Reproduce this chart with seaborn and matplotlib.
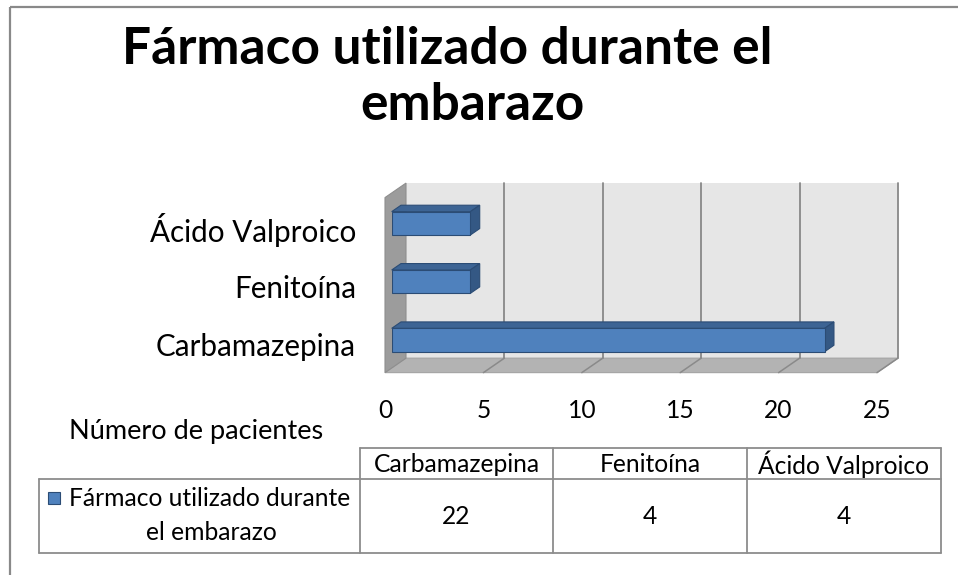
import numpy as np
import pandas as pd
import matplotlib
matplotlib.use("Agg")
import matplotlib.pyplot as plt
import seaborn as sns
from matplotlib.patches import Polygon, Rectangle
from matplotlib.transforms import ScaledTranslation, IdentityTransform, blended_transform_factory

# ---------------- data ----------------
categories = ["Carbamazepina", "Fenitoína", "Ácido Valproico"]
pacientes = [22, 4, 4]
x_ticks = [0, 5, 10, 15, 20, 25]
title_lines = ["Fármaco utilizado durante el", "embarazo"]
series_lines = ["Fármaco utilizado durante", "el embarazo"]
axis_title = "Número de pacientes"

# ---------------- setup ----------------
W, H, DPI = 958, 575, 100
sns.set_theme(style="white")
plt.rcParams["font.family"] = ["Lato", "DejaVu Sans"]

fig = plt.figure(figsize=(W / DPI, H / DPI), dpi=DPI)
fig.patch.set_facecolor("white")
renderer = fig.canvas.get_renderer()


def text_w(s, size, weight="normal"):
    t = fig.text(0, 0, s, fontsize=size, fontweight=weight)
    w = t.get_window_extent(renderer=renderer).width
    t.remove()
    return w


def fit(s, target, weight="normal"):
    return 10.0 * target / text_w(s, 10, weight)


k = fit("Carbamazepina", 200) / 24.0
fs_ylab = 24 * k
fs_axis = 22 * k
fs_table = 20 * k
fs_tick = 20 * k
fs_title = fit(title_lines[0], 651, "bold")

# overlay axes in pixel coordinates (origin top-left)
ov = fig.add_axes([0, 0, 1, 1], zorder=0)
ov.set_xlim(0, W)
ov.set_ylim(H, 0)
ov.set_axis_off()

# main plot axes: bar front plane
X0, PXU = 391.7, 19.68          # pixel of value 0, pixels per unit
YC0, DYC = 223.3, 58.35         # pixel center of first (top) category, spacing
YLIM = (2.6, -0.6)
top_px = YC0 + YLIM[1] * DYC
bot_px = YC0 + YLIM[0] * DYC
ax = fig.add_axes([X0 / W, 1 - bot_px / H, 25 * PXU / W, (bot_px - top_px) / H], zorder=1)
ax.patch.set_alpha(0)

df = pd.DataFrame({"farmaco": categories, "pacientes": pacientes})
order = categories[::-1]
sns.barplot(data=df, x="pacientes", y="farmaco", order=order, orient="h",
            width=0.4, color="#4F81BD", saturation=1, edgecolor="#2B4C75",
            linewidth=0.8, ax=ax, zorder=4)
ax.set_xlim(0, 25)
ax.set_ylim(*YLIM)
ax.set_axis_off()

RATIO = 0.69
D_FRONT, D_BACK, D_BAR = -6.7, 14.3, 9.3
Y_FLOOR, Y_TOP = 2.48, -0.52


def P(v, y, d):
    x, yy = ax.transData.transform((v, y))
    return (x + d, yy + d * RATIO)


def poly(pts, **kw):
    p = Polygon(pts, closed=True, transform=IdentityTransform(), clip_on=False, **kw)
    ax.add_patch(p)
    return p


def line(p1, p2, **kw):
    ax.plot([p1[0], p2[0]], [p1[1], p2[1]], transform=IdentityTransform(),
            clip_on=False, **kw)


vmax = x_ticks[-1]
# back wall
poly([P(0, Y_TOP, D_BACK), P(vmax, Y_TOP, D_BACK), P(vmax, Y_FLOOR, D_BACK), P(0, Y_FLOOR, D_BACK)],
     facecolor="#E6E6E6", edgecolor="none", zorder=0)
# floor
poly([P(0, Y_FLOOR, D_FRONT), P(0, Y_FLOOR, D_BACK), P(vmax, Y_FLOOR, D_BACK), P(vmax, Y_FLOOR, D_FRONT)],
     facecolor="#B3B3B3", edgecolor="#A3A3A3", linewidth=0.8, zorder=0.5)
# left wall
poly([P(0, Y_TOP, D_FRONT), P(0, Y_TOP, D_BACK), P(0, Y_FLOOR, D_BACK), P(0, Y_FLOOR, D_FRONT)],
     facecolor="#9C9C9C", edgecolor="#8E8E8E", linewidth=0.8, zorder=1)
# gridlines
for v in x_ticks[1:]:
    line(P(v, Y_TOP, D_BACK), P(v, Y_FLOOR, D_BACK), color="#888888", lw=1.3, zorder=0.8)
    line(P(v, Y_FLOOR, D_BACK), P(v, Y_FLOOR, D_FRONT), color="#8A8A8A", lw=1.1, zorder=0.8)

# 3D faces on bars
for p in ax.patches[:]:
    if not isinstance(p, Rectangle) or p.get_width() == 0:
        continue
    x0, w = p.get_x(), p.get_width()
    y0, h = p.get_y(), p.get_height()
    ya, yb = y0, y0 + h
    top_y = ya if P(0, ya, 0)[1] > P(0, yb, 0)[1] else yb
    bot_y = yb if top_y == ya else ya
    poly([P(x0, top_y, 0), P(x0 + w, top_y, 0), P(x0 + w, top_y, D_BAR), P(x0, top_y, D_BAR)],
         facecolor="#3D6494", edgecolor="#2B4C75", linewidth=0.8, zorder=3)
    poly([P(x0 + w, top_y, 0), P(x0 + w, top_y, D_BAR), P(x0 + w, bot_y, D_BAR), P(x0 + w, bot_y, 0)],
         facecolor="#345884", edgecolor="#2B4C75", linewidth=0.8, zorder=3)

# tick labels (front plane)
tr_x = blended_transform_factory(ax.transData, ov.transData) + ScaledTranslation(D_FRONT / DPI, 0, fig.dpi_scale_trans)
for v in x_ticks:
    ax.text(v, 410, str(v), transform=tr_x, ha="center", va="center",
            fontsize=fs_tick, color="#000000", clip_on=False)

tr_y = blended_transform_factory(ov.transData, ax.transData) + ScaledTranslation(0, -7 / DPI, fig.dpi_scale_trans)
for i, c in enumerate(order):
    ax.text(356, i, c, transform=tr_y, ha="right", va="center",
            fontsize=fs_ylab, color="#000000", clip_on=False)

# title
ov.text(447, 50, title_lines[0], ha="center", va="center", fontsize=fs_title,
        fontweight="bold", color="#000000")
ov.text(472, 106, title_lines[1], ha="center", va="center", fontsize=fs_title,
        fontweight="bold", color="#000000")

# axis title
ov.text(196, 431, axis_title, ha="center", va="center", fontsize=fs_axis, color="#000000")

# outer frame
ov.add_patch(Rectangle((10, 6.5), 1000, 700, fill=False, edgecolor="#898989", lw=1.6, clip_on=False))

# data table
tc = "#8C8C8C"
tlw = 1.3
col_edges = [360, 553, 747, 941]
ov.plot([col_edges[0], col_edges[-1]], [448, 448], color=tc, lw=tlw)
ov.plot([39, col_edges[-1]], [479, 479], color=tc, lw=tlw)
ov.plot([39, col_edges[-1]], [553, 553], color=tc, lw=tlw)
ov.plot([39, 39], [479, 553], color=tc, lw=tlw)
for xe in col_edges:
    ov.plot([xe, xe], [448, 553], color=tc, lw=tlw)
for j, c in enumerate(categories):
    cx = (col_edges[j] + col_edges[j + 1]) / 2
    ov.text(cx, 464, c, ha="center", va="center", fontsize=fs_table, color="#000000")
    ov.text(cx, 517, str(pacientes[j]), ha="center", va="center", fontsize=fs_table, color="#000000")

ov.add_patch(Rectangle((48, 491.5), 12.5, 12.5, facecolor="#4F81BD", edgecolor="#2B4C75", lw=0.8))
ov.text(210, 498, series_lines[0], ha="center", va="center", fontsize=fs_table, color="#000000")
ov.text(211.5, 532, series_lines[1], ha="center", va="center", fontsize=fs_table, color="#000000")

fig.savefig("out.png", dpi=DPI, facecolor="white")
